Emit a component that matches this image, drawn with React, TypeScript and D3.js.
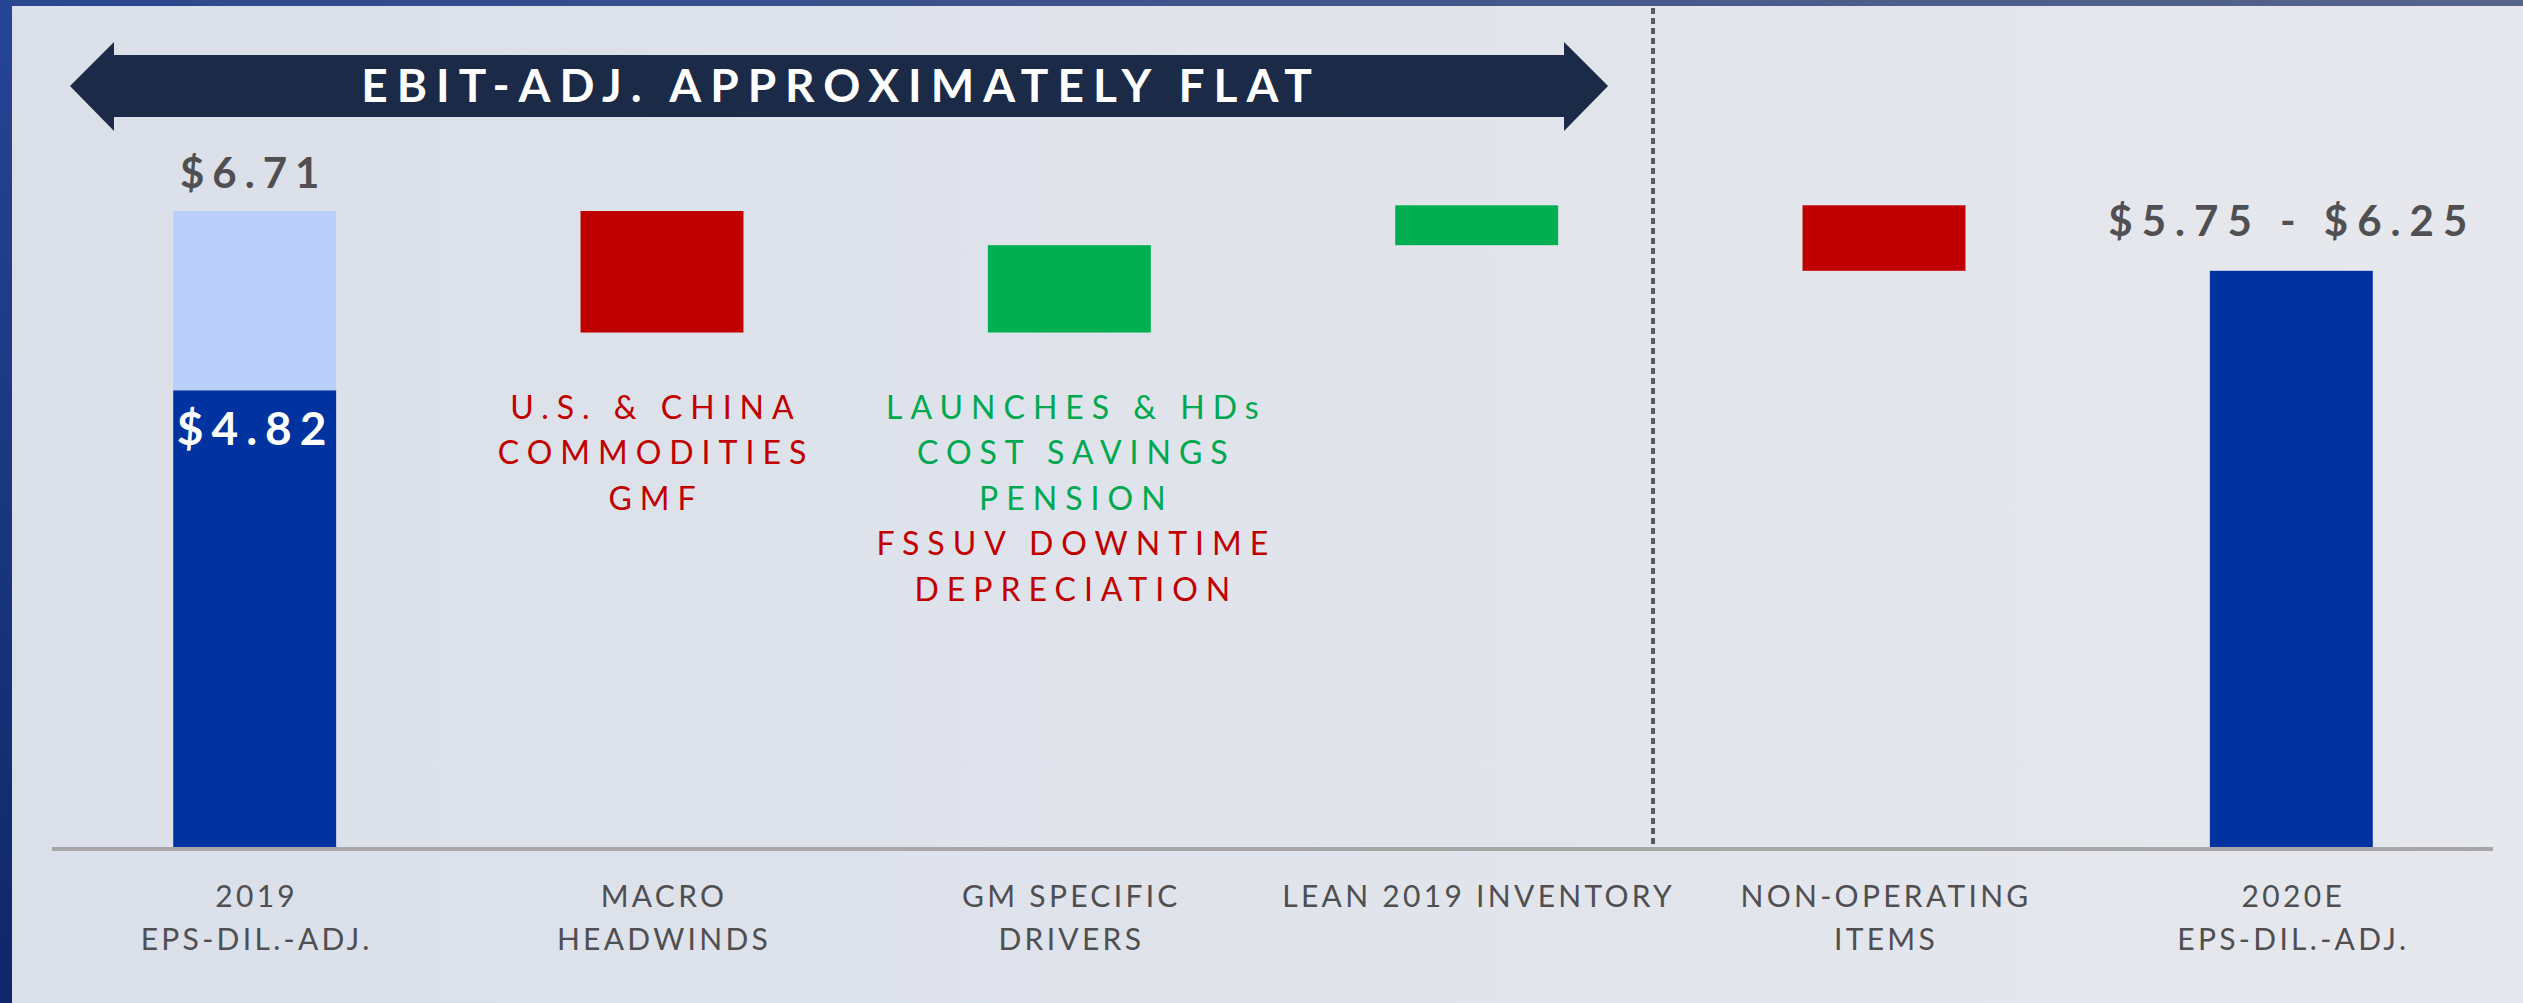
import React, { useRef, useEffect } from 'react';
import * as d3 from 'd3';

const W = 2523;
const H = 1003;

// categories along the bridge
const categories = ['2019', 'MACRO', 'GM SPECIFIC', 'LEAN 2019 INVENTORY', 'NON-OPERATING', '2020E'];
const axisLabels = [
  ['2019', 'EPS-DIL.-ADJ.'],
  ['MACRO', 'HEADWINDS'],
  ['GM SPECIFIC', 'DRIVERS'],
  ['LEAN 2019 INVENTORY'],
  ['NON-OPERATING', 'ITEMS'],
  ['2020E', 'EPS-DIL.-ADJ.'],
];

// values ($ EPS)
const start2019 = 6.71;
const start2019Core = 4.82;
const bridgeSteps = [-1.28, 0.92, 0.42, -0.69];
const end2020 = 6.08;

const valueText2019 = '$6.71';
const valueTextCore = '$4.82';
const valueText2020 = '$5.75 - $6.25';

const macroNotes = ['U.S. & CHINA', 'COMMODITIES', 'GMF'];
const macroNoteSigns = [-1, -1, -1];
const gmNotes = ['LAUNCHES & HDs', 'COST SAVINGS', 'PENSION', 'FSSUV DOWNTIME', 'DEPRECIATION'];
const gmNoteSigns = [1, 1, 1, -1, -1];

const bannerText = 'EBIT-ADJ. APPROXIMATELY FLAT';

const FONT = 'Lato, "Open Sans", "Noto Sans", sans-serif';
const RED = '#c00000';
const GREEN = '#00a84f';
const DARK_BLUE = '#0033a0';
const LIGHT_BLUE = '#b9cefa';

const App = () => {
  const ref = useRef<HTMLDivElement>(null);

  useEffect(() => {
    const root = d3.select(ref.current);
    root.selectAll('*').remove();

    const svg = root.append('svg')
      .attr('width', W)
      .attr('height', H)
      .attr('viewBox', [0, 0, W, H].join(' '))
      .style('position', 'absolute')
      .style('left', 0)
      .style('top', 0);

    const defs = svg.append('defs');
    const bg = defs.append('linearGradient').attr('id', 'bg').attr('x1', 0).attr('x2', 1).attr('y1', 0).attr('y2', 0);
    bg.append('stop').attr('offset', 0).attr('stop-color', '#dadfe9');
    bg.append('stop').attr('offset', 1).attr('stop-color', '#e6e8ed');
    const lb = defs.append('linearGradient').attr('id', 'lb').attr('x1', 0).attr('x2', 0).attr('y1', 0).attr('y2', 1);
    lb.append('stop').attr('offset', 0).attr('stop-color', '#274596');
    lb.append('stop').attr('offset', 1).attr('stop-color', '#0d2768');
    const tb = defs.append('linearGradient').attr('id', 'tb').attr('x1', 0).attr('x2', 1).attr('y1', 0).attr('y2', 0);
    tb.append('stop').attr('offset', 0).attr('stop-color', '#2a468e');
    tb.append('stop').attr('offset', 1).attr('stop-color', '#56658a');

    svg.append('rect').attr('width', W).attr('height', H).attr('fill', 'url(#bg)');
    svg.append('rect').attr('width', W).attr('height', 6).attr('fill', 'url(#tb)');
    svg.append('rect').attr('width', 12).attr('height', H).attr('fill', 'url(#lb)');

    const x = d3.scaleBand<string>()
      .domain(categories)
      .range([51, 2495])
      .paddingInner(0.6)
      .paddingOuter(0.3);
    const y = d3.scaleLinear().domain([0, start2019]).range([848, 211]);
    const bw = x.bandwidth();
    const cx = (c: string) => (x(c) as number) + bw / 2;

    // floating steps
    let run = start2019;
    const steps = bridgeSteps.map((d, i) => {
      const from = run;
      run += d;
      return { cat: categories[i + 1], from, to: run, delta: d };
    });

    // 2019 stacked bar
    svg.append('rect')
      .attr('x', x(categories[0]) as number)
      .attr('y', y(start2019))
      .attr('width', bw)
      .attr('height', y(start2019Core) - y(start2019))
      .attr('fill', LIGHT_BLUE);
    svg.append('rect')
      .attr('x', x(categories[0]) as number)
      .attr('y', y(start2019Core))
      .attr('width', bw)
      .attr('height', y(0) - y(start2019Core))
      .attr('fill', DARK_BLUE);

    svg.append('g')
      .selectAll('rect')
      .data(steps)
      .join('rect')
      .attr('x', d => x(d.cat) as number)
      .attr('y', d => y(Math.max(d.from, d.to)))
      .attr('width', bw)
      .attr('height', d => Math.abs(y(d.from) - y(d.to)))
      .attr('fill', d => (d.delta < 0 ? RED : '#00b050'));

    // 2020E bar
    svg.append('rect')
      .attr('x', x(categories[5]) as number)
      .attr('y', y(end2020))
      .attr('width', bw)
      .attr('height', y(0) - y(end2020))
      .attr('fill', DARK_BLUE);

    // baseline
    svg.append('line')
      .attr('x1', x.range()[0] + 1)
      .attr('x2', x.range()[1] - 2)
      .attr('y1', y(0) + 1)
      .attr('y2', y(0) + 1)
      .attr('stroke', '#a7a7a9')
      .attr('stroke-width', 4);

    // divider between operating and non-operating
    const divX = cx(categories[3]) + x.step() * 0.433;
    svg.append('line')
      .attr('x1', divX)
      .attr('x2', divX)
      .attr('y1', 8)
      .attr('y2', y(0) - 1)
      .attr('stroke', '#59595b')
      .attr('stroke-width', 4)
      .attr('stroke-dasharray', '6 4');

    // banner arrow
    const xl = x.range()[0] + 19;
    const xr = divX - 45;
    const head = 44;
    const sTop = 55, sBot = 117, hTop = 42, hBot = 131, mid = 86;
    const arrow = d3.path();
    arrow.moveTo(xl, mid);
    arrow.lineTo(xl + head, hTop);
    arrow.lineTo(xl + head, sTop);
    arrow.lineTo(xr - head, sTop);
    arrow.lineTo(xr - head, hTop);
    arrow.lineTo(xr, mid);
    arrow.lineTo(xr - head, hBot);
    arrow.lineTo(xr - head, sBot);
    arrow.lineTo(xl + head, sBot);
    arrow.lineTo(xl + head, hBot);
    arrow.closePath();
    svg.append('path').attr('d', arrow.toString()).attr('fill', '#1b2a47');

    svg.append('text')
      .text(bannerText)
      .attr('x', (xl + xr) / 2 + 2)
      .attr('y', 102)
      .attr('text-anchor', 'middle')
      .attr('font-family', FONT)
      .attr('font-weight', 'bold')
      .attr('font-size', 46)
      .attr('letter-spacing', 9)
      .attr('fill', '#ffffff');

    // value labels
    const valueStyle = (sel: any, size: number, ls: number, fill: string) =>
      sel.attr('text-anchor', 'middle')
        .attr('font-family', FONT)
        .attr('font-weight', 'bold')
        .attr('font-size', size)
        .attr('letter-spacing', ls)
        .attr('fill', fill);

    valueStyle(svg.append('text').text(valueText2019)
      .attr('x', cx(categories[0]) - 1)
      .attr('y', y(start2019) - 23), 42, 8, '#505052');
    valueStyle(svg.append('text').text(valueTextCore)
      .attr('x', cx(categories[0]) + 1)
      .attr('y', y(start2019Core) + 55), 46, 8, '#ffffff');
    valueStyle(svg.append('text').text(valueText2020)
      .attr('x', cx(categories[5]) + 1)
      .attr('y', y(end2020) - 35), 42, 9, '#505052');

    // driver notes under the red / green steps
    const notes = (lines: string[], signs: number[], cat: string, dx: number, top: number) => {
      svg.append('g')
        .selectAll('text')
        .data(lines)
        .join('text')
        .text(d => d)
        .attr('x', cx(cat) + dx)
        .attr('y', (d, i) => top + i * 45.5)
        .attr('text-anchor', 'middle')
        .attr('font-family', FONT)
        .attr('font-size', 32)
        .attr('letter-spacing', 8)
        .attr('fill', (d, i) => (signs[i] < 0 ? RED : GREEN));
    };
    const noteTop = y(steps[0].to) + 86;
    notes(macroNotes, macroNoteSigns, categories[1], -6, noteTop);
    notes(gmNotes, gmNoteSigns, categories[2], 7, noteTop);

    // category axis labels
    const lab = svg.append('g')
      .selectAll('g')
      .data(categories)
      .join('g')
      .attr('transform', d => `translate(${cx(d) + 2},0)`);
    lab.selectAll('text')
      .data((d, i) => axisLabels[i])
      .join('text')
      .text(d => d)
      .attr('x', 0)
      .attr('y', (d, i) => y(0) + 59 + i * 43)
      .attr('text-anchor', 'middle')
      .attr('font-family', FONT)
      .attr('font-size', 30)
      .attr('letter-spacing', 3.3)
      .attr('fill', '#4f4f51');
  }, []);

  return <div ref={ref} />;
};

export default App;
